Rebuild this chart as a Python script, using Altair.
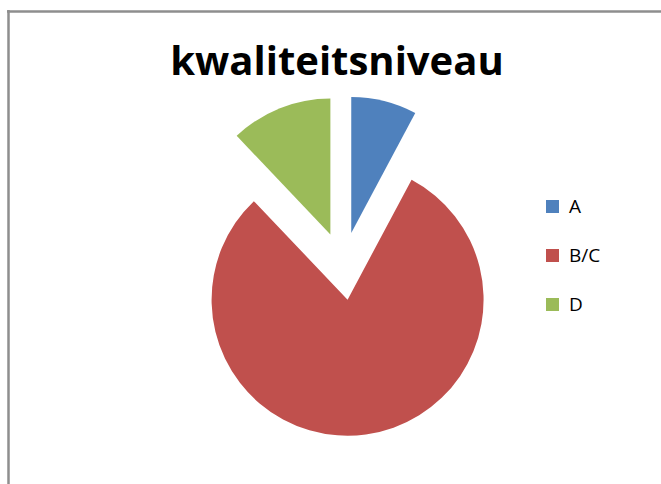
import altair as alt
import pandas as pd

categories = ["A", "B/C", "D"]
values = [7.8, 80.1, 12.1]
order = [0, 1, 2]
colors = ["#4F81BD", "#C0504D", "#9BBB59"]
title_text = "kwaliteitsniveau"

W, H = 661, 484
CX, CY = 343, 266
R = 136
EXPLODE = 34

df = pd.DataFrame({"cat": categories, "val": values, "order": order})

pie = (
    alt.Chart(df)
    .transform_joinaggregate(total="sum(val)")
    .transform_window(cum="sum(val)", sort=[alt.SortField("order")], frame=[None, 0])
    .transform_calculate(
        t1="2*PI*datum.cum/datum.total",
        t0="2*PI*(datum.cum-datum.val)/datum.total",
    )
    .transform_calculate(mid="(datum.t0+datum.t1)/2")
    .transform_calculate(
        cx=f"{CX}+{EXPLODE}*sin(datum.mid)",
        cy=f"{CY}-{EXPLODE}*cos(datum.mid)",
    )
    .mark_arc(outerRadius=R, innerRadius=0)
    .encode(
        theta=alt.Theta("t0:Q", scale=None, stack=None),
        theta2="t1:Q",
        x=alt.X("cx:Q", scale=None),
        y=alt.Y("cy:Q", scale=None),
        color=alt.Color(
            "cat:N",
            scale=alt.Scale(domain=categories, range=colors),
            legend=alt.Legend(
                orient="none",
                legendX=543,
                legendY=197,
                title=None,
                symbolType="square",
                symbolSize=170,
                symbolStrokeWidth=0,
                symbolOpacity=1,
                labelFontSize=19,
                labelFont="Open Sans",
                labelColor="#000000",
                labelOffset=7,
                rowPadding=29,
            ),
        ),
    )
)

one = pd.DataFrame({"k": [0]})
title = alt.Chart(one).mark_text(
    text=title_text, font="Open Sans", fontSize=40, fontWeight="bold",
    align="center", baseline="alphabetic", color="#000000"
).encode(x=alt.value(337), y=alt.value(75))

left_rule = alt.Chart(one).mark_rule(color="#8e8e8e", strokeWidth=2.5).encode(
    x=alt.value(8.5), y=alt.value(10), y2=alt.value(H)
)
top_rule = alt.Chart(one).mark_rule(color="#8e8e8e", strokeWidth=2.5).encode(
    x=alt.value(7), x2=alt.value(W), y=alt.value(11.5)
)

chart = (
    alt.layer(pie, title, left_rule, top_rule)
    .properties(width=W, height=H, padding=0, autosize=alt.AutoSizeParams(type="none"),
                background="white")
    .configure_view(stroke=None)
)

chart.save("out.html", embed_options={"renderer": "svg", "actions": False})
